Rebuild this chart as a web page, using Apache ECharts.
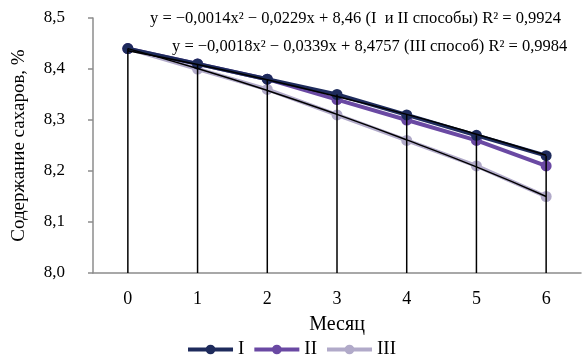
<!DOCTYPE html>
<html>
<head>
<meta charset="utf-8">
<script src="https://cdn.jsdelivr.net/npm/echarts@6/dist/echarts.min.js"></script>
<style>
  html, body { margin: 0; padding: 0; background: #fff; }
  #chart { width: 582px; height: 360px; }
</style>
</head>
<body>
<div id="chart"></div>
<script>
const months = ['0', '1', '2', '3', '4', '5', '6'];
const seriesI = [8.44, 8.41, 8.38, 8.35, 8.31, 8.27, 8.23];
const seriesII = [8.44, 8.41, 8.38, 8.34, 8.30, 8.26, 8.21];
const seriesIII = [8.44, 8.40, 8.36, 8.31, 8.26, 8.21, 8.15];
// trend lines as drawn (I и II / III)
const trendI_II = [8.436, 8.409, 8.379, 8.346, 8.311, 8.272, 8.231];
const trendIII = [8.440, 8.401, 8.358, 8.311, 8.261, 8.208, 8.150];
// drop lines go from the top point of each month down to the axis
const dropTops = [8.44, 8.41, 8.38, 8.35, 8.31, 8.27, 8.23];
const eq1 = 'y = \u22120,0014x\u00b2 \u2212 0,0229x + 8,46 (I  и II способы) R\u00b2 = 0,9924';
const eq2 = 'y = \u22120,0018x\u00b2 \u2212 0,0339x + 8,4757 (III способ) R\u00b2 = 0,9984';

const font = 'Liberation Serif';
let myChart = echarts.init(document.getElementById('chart'));

function dataSeries(name, data, color, z) {
  return {
    name: name,
    type: 'line',
    data: data,
    symbol: 'circle',
    symbolSize: 11,
    lineStyle: { color: color, width: 4 },
    itemStyle: { color: color },
    z: z,
  };
}

function trendSeries(data) {
  return {
    type: 'line',
    data: data,
    smooth: true,
    symbol: 'none',
    silent: true,
    lineStyle: { color: '#000', width: 1.5 },
    z: 3,
  };
}

let option = {
  animation: false,
  textStyle: { fontFamily: font },
  grid: { left: 93, right: 1, top: 18, bottom: 87, outerBoundsMode: 'none' },
  legend: {
    bottom: -4,
    left: 'center',
    itemWidth: 45,
    itemHeight: 12,
    itemGap: 8,
    lineStyle: { width: 4 },
    textStyle: { fontFamily: font, fontSize: 19, color: '#000' },
    data: ['I', 'II', 'III'],
  },
  xAxis: {
    type: 'category',
    data: months,
    name: 'Месяц',
    nameLocation: 'middle',
    nameGap: 42,
    nameTextStyle: { fontFamily: font, fontSize: 20, color: '#000' },
    axisLine: { lineStyle: { color: '#8c8c8c', width: 1.5 } },
    axisTick: { show: false },
    axisLabel: { fontFamily: font, fontSize: 18, color: '#000', margin: 17 },
  },
  yAxis: {
    type: 'value',
    min: 8,
    max: 8.5,
    interval: 0.1,
    name: 'Содержание сахаров, %',
    nameLocation: 'middle',
    nameGap: 64,
    nameTextStyle: { fontFamily: font, fontSize: 19, color: '#000' },
    axisLine: { show: true, lineStyle: { color: '#8c8c8c', width: 1.5 } },
    axisTick: { show: true, length: 5, lineStyle: { color: '#8c8c8c', width: 1.5 } },
    splitLine: { show: false },
    axisLabel: {
      fontFamily: font,
      fontSize: 17,
      color: '#000',
      margin: 28,
      formatter: v => v.toFixed(1).replace('.', ','),
    },
  },
  graphic: [
    {
      type: 'text',
      left: 150,
      top: 10,
      style: { text: eq1, fontFamily: font, fontSize: 16.5, fill: '#000' },
    },
    {
      type: 'text',
      left: 172,
      top: 38,
      style: { text: eq2, fontFamily: font, fontSize: 16.5, fill: '#000' },
    },
  ],
  series: [
    dataSeries('I', seriesI, '#1e2b5c', 2.3),
    dataSeries('II', seriesII, '#6a49a3', 2.2),
    dataSeries('III', seriesIII, '#b1aac9', 2.1),
    trendSeries(trendI_II),
    trendSeries(trendIII),
    {
      type: 'custom',
      silent: true,
      z: 4,
      data: dropTops.map((v, i) => [i, v]),
      renderItem(params, api) {
        const top = api.coord([api.value(0), api.value(1)]);
        const bottom = api.coord([api.value(0), 8]);
        return {
          type: 'line',
          shape: { x1: top[0], y1: top[1], x2: bottom[0], y2: bottom[1] },
          style: { stroke: '#000', lineWidth: 1.5 },
        };
      },
    },
  ],
};
myChart.setOption(option);
</script>
</body>
</html>
